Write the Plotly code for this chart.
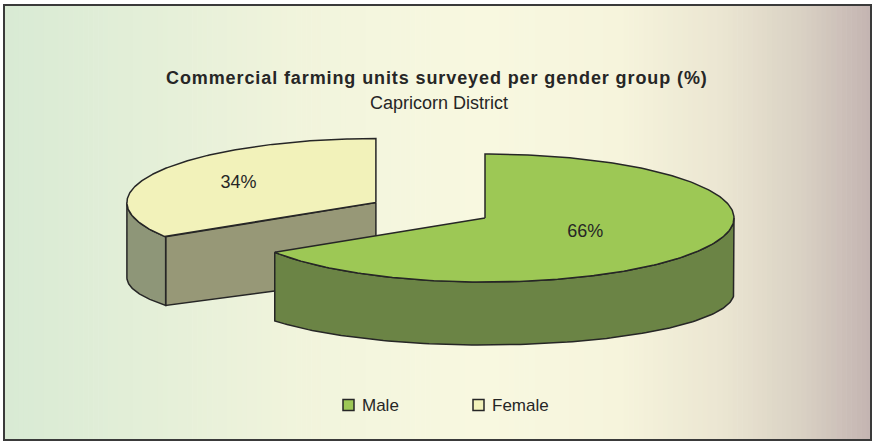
import numpy as np
import plotly.graph_objects as go

# ── Data ──────────────────────────────────────────────────────────────────────
labels = ["Male", "Female"]
shares = [66, 34]

title_text = "Commercial farming units surveyed per gender group (%)"
subtitle_text = "Capricorn District"

# ── Style ─────────────────────────────────────────────────────────────────────
W, H = 875, 442
CX, CY = 485, 218          # pie centre (pixels)
RX, RY = 249, 64           # ellipse semi-axes of the top face
DEPTH = 75                 # drop of the bottom ellipse centre
RY_BOT = 52                # bottom ellipse is flatter (perspective)
START = 90                 # first slice starts at 12 o'clock, clockwise
explode = [0.0, 0.5]
label_r = [0.46, 0.63]
top_colors = ["#9dc855", "#f2f2ba"]
side_colors = ["#6b8445", "#8e9678"]
cut_colors = ["#6b8445", "#979877"]
EDGE = "#262626"
TEXT = "#262626"
FONT = "Liberation Sans, Arial"

legend_x = [348.5, 478.5]  # square centres of the legend entries
LEGEND_Y = 405

bg_stops = [
    (0, "#d8ead4"), (150, "#e4efd8"), (300, "#f1f4dc"), (480, "#f8f8e0"),
    (620, "#f6f4dc"), (720, "#ebe6d2"), (800, "#dad2c4"), (875, "#c2b2b0"),
]


def ell(cx, cy, th, bottom=False):
    t = np.radians(th)
    if bottom:
        return cx + RX * np.cos(t), cy + DEPTH - RY_BOT * np.sin(t)
    return cx + RX * np.cos(t), cy - RY * np.sin(t)


def hex_rgb(h):
    h = h.lstrip("#")
    return [int(h[i:i + 2], 16) for i in (0, 2, 4)]


fig = go.Figure()

# ── Slice geometry from the data ──────────────────────────────────────────────
total = float(sum(shares))
slices = []
a_hi = START
for i, v in enumerate(shares):
    span = 360.0 * v / total
    a_lo = a_hi - span
    mid = np.radians((a_lo + a_hi) / 2)
    cx = CX + explode[i] * RX * np.cos(mid)
    cy = CY - explode[i] * RY * np.sin(mid)
    slices.append(dict(i=i, lo=a_lo, hi=a_hi, cx=cx, cy=cy, mid=mid))
    a_hi = a_lo


def poly(xs, ys, color):
    fig.add_trace(
        go.Scatter(
            x=list(xs) + [xs[0]], y=list(ys) + [ys[0]],
            mode="lines", fill="toself", fillcolor=color,
            line=dict(color=EDGE, width=1.5),
            showlegend=False, hoverinfo="skip",
        )
    )


# back slices first
for s in sorted(slices, key=lambda s: s["cy"]):
    i, lo, hi, cx, cy = s["i"], s["lo"], s["hi"], s["cx"], s["cy"]

    # radial cut faces that look toward the viewer
    for th, vis in ((lo, np.cos(np.radians(lo)) > 1e-6), (hi, np.cos(np.radians(hi)) < -1e-6)):
        if vis:
            ex, ey = ell(cx, cy, th)
            bx, by = ell(cx, cy, th, bottom=True)
            poly([cx, ex, bx, cx], [cy, ey, by, cy + DEPTH], cut_colors[i])

    # curved outer wall: front half only
    k0 = np.floor((lo - 180) / 360)
    for k in (k0 - 1, k0, k0 + 1):
        f_lo, f_hi = max(lo, 180 + 360 * k), min(hi, 360 + 360 * k)
        if f_hi - f_lo > 0.1:
            th = np.linspace(f_lo, f_hi, 120)
            tx, ty = ell(cx, cy, th)
            bx, by = ell(cx, cy, th[::-1], bottom=True)
            poly(np.r_[tx, bx], np.r_[ty, by], side_colors[i])

    # top face
    th = np.linspace(hi, lo, 240)
    tx, ty = ell(cx, cy, th)
    poly(np.r_[cx, tx], np.r_[cy, ty], top_colors[i])

    # percentage label
    lx = cx + label_r[i] * RX * np.cos(s["mid"])
    ly = cy - label_r[i] * RY * np.sin(s["mid"])
    fig.add_trace(
        go.Scatter(
            x=[lx], y=[ly], mode="text", text=[f"{shares[i]}%"],
            textfont=dict(size=18, color=TEXT, family=FONT),
            showlegend=False, hoverinfo="skip",
        )
    )

# ── Legend (drawn by hand so the spacing matches) ────────────────────────────
annotations = []
for i, name in enumerate(labels):
    fig.add_trace(
        go.Scatter(
            x=[legend_x[i]], y=[LEGEND_Y], mode="markers",
            marker=dict(symbol="square", size=11, color=top_colors[i],
                        line=dict(color=EDGE, width=1.5)),
            showlegend=False, hoverinfo="skip",
        )
    )
    annotations.append(dict(
        x=legend_x[i] + 11, y=LEGEND_Y, xref="x", yref="y", text=name,
        xanchor="left", showarrow=False,
        font=dict(size=17, color=TEXT, family=FONT),
    ))

# ── Background gradient (vertical strips) ─────────────────────────────────────
shapes = []
stop_x = [p for p, _ in bg_stops]
stop_c = np.array([hex_rgb(c) for _, c in bg_stops], dtype=float)
n_strips = 175
edges = np.linspace(4, 871, n_strips + 1)
for x0, x1 in zip(edges[:-1], edges[1:]):
    xm = (x0 + x1) / 2
    rgb = [int(round(np.interp(xm, stop_x, stop_c[:, j]))) for j in range(3)]
    shapes.append(dict(
        type="rect", xref="x", yref="y", x0=x0, x1=x1 + 0.6, y0=5, y1=440,
        fillcolor=f"rgb({rgb[0]},{rgb[1]},{rgb[2]})", line=dict(width=0), layer="below",
    ))
shapes.append(dict(
    type="rect", xref="x", yref="y", x0=4, x1=871, y0=5, y1=440,
    line=dict(color="#3a3a3a", width=2), fillcolor="rgba(0,0,0,0)", layer="above",
))

annotations += [
    dict(x=436.5, y=77.5, xref="x", yref="y",
         text=f"<span style='letter-spacing:0.9px'><b>{title_text}</b></span>",
         showarrow=False, font=dict(size=18, color=TEXT, family=FONT)),
    dict(x=438.5, y=103, xref="x", yref="y", text=subtitle_text,
         showarrow=False, font=dict(size=18, color=TEXT, family=FONT)),
]

fig.update_layout(
    width=W, height=H,
    margin=dict(l=0, r=0, t=0, b=0),
    paper_bgcolor="white", plot_bgcolor="rgba(0,0,0,0)",
    xaxis=dict(range=[0, W], visible=False, fixedrange=True),
    yaxis=dict(range=[H, 0], visible=False, fixedrange=True),
    shapes=shapes,
    showlegend=False,
    annotations=annotations,
)

fig.write_html(
    "out.html",
    config={"displayModeBar": False},
    post_script="document.body.style.margin='0';",
)
